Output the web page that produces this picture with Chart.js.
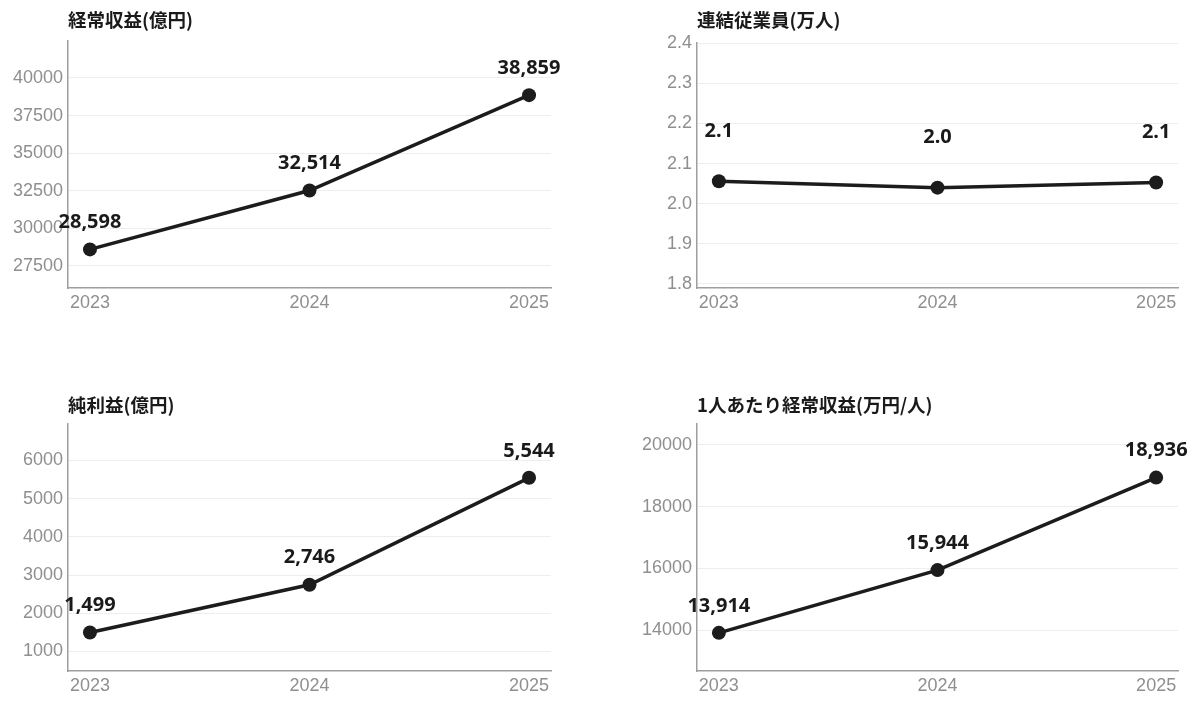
<!DOCTYPE html>
<html lang="ja">
<head>
<meta charset="utf-8">
<title>業績推移</title>
<script src="https://cdn.jsdelivr.net/npm/chart.js@4.4.1/dist/chart.umd.min.js"></script>
<style>
  html, body {
    margin: 0;
    padding: 0;
    background: #ffffff;
  }
  body {
    position: relative;
    width: 1200px;
    height: 703px;
    overflow: hidden;
  }
  canvas {
    position: absolute;
    display: block;
  }
  #chart-revenue { left: 0; top: 0; }
  #chart-employees { left: 600px; top: 0; }
  #chart-profit { left: 0; top: 385px; }
  #chart-per-head { left: 600px; top: 385px; }
</style>
</head>
<body>
<canvas id="chart-revenue" width="600" height="320"></canvas>
<canvas id="chart-employees" width="600" height="320"></canvas>
<canvas id="chart-profit" width="600" height="318"></canvas>
<canvas id="chart-per-head" width="600" height="318"></canvas>

<script>
// 年度
const years = ["2023", "2024", "2025"];

// 経常収益(億円)
const revenue = [28598, 32514, 38859];
const revenueTicks = [27500, 30000, 32500, 35000, 37500, 40000];

// 連結従業員(万人)
const employees = [2.056, 2.04, 2.053];
const employeeTicks = [1.8, 1.9, 2.0, 2.1, 2.2, 2.3, 2.4];

// 純利益(億円)
const netProfit = [1499, 2746, 5544];
const netProfitTicks = [1000, 2000, 3000, 4000, 5000, 6000];

// 1人あたり経常収益(万円/人)
const revenuePerHead = [13914, 15944, 18936];
const revenuePerHeadTicks = [14000, 16000, 18000, 20000];

const lineColor = "#1c1c1c";
const tickFont = { family: "'Liberation Sans', Arial, sans-serif", size: 18 };

// draws the value above each point
const pointLabels = {
  id: "pointLabels",
  afterDatasetsDraw: function (chart, args, opts) {
    const ctx = chart.ctx;
    const meta = chart.getDatasetMeta(0);
    const values = chart.data.datasets[0].data;
    ctx.save();
    ctx.font = "bold 20px 'Noto Sans', 'Liberation Sans', sans-serif";
    ctx.fillStyle = "#1a1a1a";
    ctx.textAlign = "center";
    ctx.textBaseline = "middle";
    meta.data.forEach(function (pt, i) {
      ctx.fillText(opts.format(values[i].y), pt.x, pt.y - opts.offset);
    });
    ctx.restore();
  },
};

let toPoints = function (values) {
  return values.map(function (v, i) {
    return { x: i, y: v };
  });
};

let drawLineChart = function (id, cfg) {
  let ctx = document.getElementById(id).getContext("2d");

  return new Chart(ctx, {
    type: "line",
    data: {
      datasets: [
        {
          data: toPoints(cfg.values),
          borderColor: lineColor,
          backgroundColor: lineColor,
          borderWidth: 3.5,
          pointRadius: 7,
          pointBackgroundColor: lineColor,
          pointBorderWidth: 0,
          tension: 0,
          clip: false,
        },
      ],
    },
    options: {
      responsive: false,
      animation: false,
      layout: {
        padding: { top: 9, right: cfg.right, bottom: 0, left: 0 },
      },
      plugins: {
        legend: { display: false },
        tooltip: { enabled: false },
        title: {
          display: true,
          text: cfg.title,
          align: "start",
          fullSize: false,
          color: "#1a1a1a",
          font: { family: "'Noto Sans CJK JP', sans-serif", size: 18.5, weight: "bold", lineHeight: 1.2 },
          padding: { top: 0, bottom: cfg.titleGap },
        },
        pointLabels: {
          offset: cfg.labelOffset,
          format: cfg.labelFormat,
        },
      },
      scales: {
        x: {
          type: "linear",
          min: -0.1,
          max: years.length - 0.9,
          grid: { display: false, drawTicks: false },
          border: { display: true, color: "#9e9e9e", width: 1.5 },
          ticks: {
            padding: 4,
            color: "#8f8f8f",
            font: tickFont,
            maxRotation: 0,
            callback: function (v) {
              return years[v];
            },
          },
          afterBuildTicks: function (scale) {
            scale.ticks = years.map(function (y, i) {
              return { value: i };
            });
          },
          afterFit: function (scale) {
            scale.height = cfg.xHeight;
          },
        },
        y: {
          min: cfg.min,
          max: cfg.max,
          grid: { color: "#eeeeee", lineWidth: 1, drawTicks: false },
          border: { display: true, color: "#9e9e9e", width: 1.5 },
          ticks: {
            padding: 5,
            color: "#8f8f8f",
            font: tickFont,
            callback: function (v) {
              return v.toFixed(cfg.decimals);
            },
          },
          afterBuildTicks: function (scale) {
            scale.ticks = cfg.ticks.map(function (v) {
              return { value: v };
            });
          },
          afterFit: function (scale) {
            scale.width = cfg.yWidth;
          },
        },
      },
    },
    plugins: [pointLabels],
  });
};

let intLabel = function (v) {
  return v.toLocaleString("en-US");
};

let chartDraw = function () {
  drawLineChart("chart-revenue", {
    title: "経常収益(億円)",
    values: revenue,
    ticks: revenueTicks,
    min: 26030,
    max: 42480,
    decimals: 0,
    yWidth: 68,
    xHeight: 32,
    right: 49,
    titleGap: 9.5,
    labelOffset: 27,
    labelFormat: intLabel,
  });

  drawLineChart("chart-employees", {
    title: "連結従業員(万人)",
    values: employees,
    ticks: employeeTicks,
    min: 1.79,
    max: 2.4,
    decimals: 1,
    yWidth: 97,
    xHeight: 32,
    right: 22,
    titleGap: 12,
    labelOffset: 50,
    labelFormat: function (v) {
      return v.toFixed(1);
    },
  });

  drawLineChart("chart-profit", {
    title: "純利益(億円)",
    values: netProfit,
    ticks: netProfitTicks,
    min: 490,
    max: 6960,
    decimals: 0,
    yWidth: 68,
    xHeight: 32,
    right: 49,
    titleGap: 7.5,
    labelOffset: 27,
    labelFormat: intLabel,
  });

  drawLineChart("chart-per-head", {
    title: "1人あたり経常収益(万円/人)",
    values: revenuePerHead,
    ticks: revenuePerHeadTicks,
    min: 12680,
    max: 20680,
    decimals: 0,
    yWidth: 97,
    xHeight: 32,
    right: 22,
    titleGap: 7.5,
    labelOffset: 27,
    labelFormat: intLabel,
  });
};

window.onload = function () {
  chartDraw();
};
</script>
</body>
</html>
